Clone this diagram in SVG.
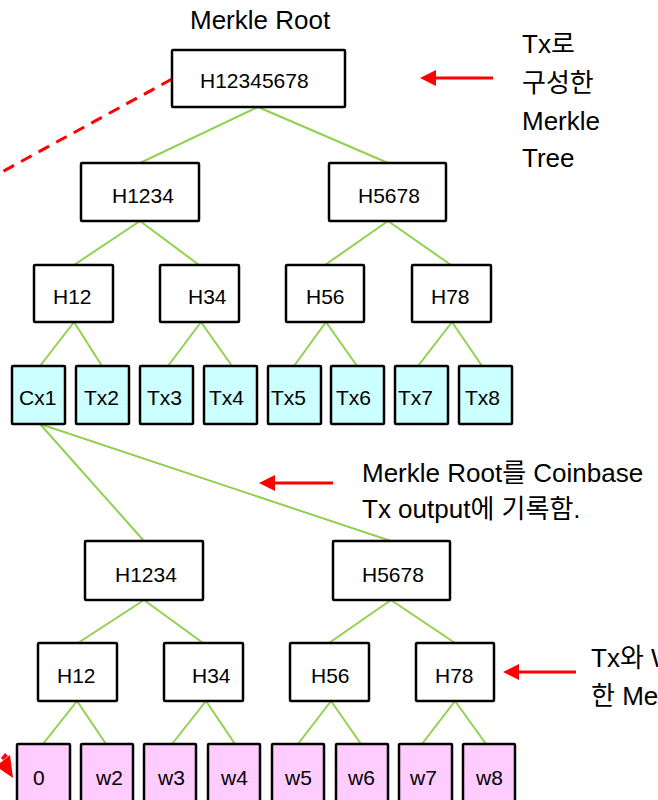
<svg xmlns="http://www.w3.org/2000/svg" width="658" height="800" viewBox="0 0 658 800">
<style>
.box{fill:#fff;stroke:#000;stroke-width:2.5}
.tx{fill:#ccffff;stroke:#000;stroke-width:2.5}
.wt{fill:#ffccff;stroke:#000;stroke-width:2.5}
.lbl{font-family:"Liberation Sans",Arial,sans-serif;font-size:21px;fill:#000}
.ann{font-family:"Liberation Sans","Noto Sans CJK KR",sans-serif;font-size:26px;fill:#000}
.edge{stroke:#92d050;stroke-width:2;fill:none}
.red{stroke:#ff0000;stroke-width:3;fill:none}
.head{fill:#ff0000}
</style>
<rect width="658" height="800" fill="#fff"/>
<g id="connectors">
<path class="edge" d="M258,107L140,163M258,107L388,163M140,221L74,265M140,221L199,265M388,221L325,265M388,221L451,265M74,322L40,366M74,322L102,366M201,322L168,366M201,322L232,366M326,322L294,366M326,322L357,366M452,322L418,366M452,322L482,366M40,424L144,541M40,424L391,541M144,600L78,643M144,600L203,643M391,600L329,643M391,600L455,643M77,701L43,744M77,701L106,744M206,701L172,744M206,701L235,744M331,701L298,744M331,701L361,744M455,701L422,744M455,701L486,744"/>
<line class="red" x1="172" y1="79" x2="0" y2="173" stroke-dasharray="12,8"/>
<line class="red" x1="493" y1="78" x2="434" y2="78"/>
<polygon class="head" points="420,78 436,70 436,86"/>
<line class="red" x1="333" y1="483" x2="273" y2="483"/>
<polygon class="head" points="259,483 275,475 275,491"/>
<line class="red" x1="576" y1="672" x2="517" y2="672"/>
<polygon class="head" points="503,672 519,664 519,680"/>
<polygon class="head" points="13,778 0,769 0,763 10,755"/>
<polygon class="head" points="1,758 5,753 8,756 3,760"/>
</g>
<text class="ann" x="190" y="29">Merkle Root</text>
<text class="ann" x="522" y="53">Tx로</text>
<text class="ann" x="522" y="92">구성한</text>
<text class="ann" x="522" y="130">Merkle</text>
<text class="ann" x="522" y="167">Tree</text>
<text class="ann" x="362" y="482">Merkle Root를 Coinbase</text>
<text class="ann" x="362" y="518">Tx output에 기록함.</text>
<text class="ann" x="591" y="667">Tx와 Witness로 구성</text>
<text class="ann" x="591" y="705">한 Merkle Tree</text>
<g id="root"><rect class="box" x="172" y="50" width="173" height="57" rx="1"/><text class="lbl" x="200" y="88">H12345678</text></g>
<g id="h1234a"><rect class="box" x="81" y="163" width="118" height="58" rx="1"/><text class="lbl" x="112" y="203">H1234</text></g>
<g id="h5678a"><rect class="box" x="329" y="163" width="117" height="58" rx="1"/><text class="lbl" x="358" y="203">H5678</text></g>
<g id="h12a"><rect class="box" x="34" y="265" width="79" height="57" rx="1"/><text class="lbl" x="53" y="304">H12</text></g>
<g id="h34a"><rect class="box" x="160" y="265" width="79" height="57" rx="1"/><text class="lbl" x="188" y="304">H34</text></g>
<g id="h56a"><rect class="box" x="286" y="265" width="78" height="57" rx="1"/><text class="lbl" x="306" y="304">H56</text></g>
<g id="h78a"><rect class="box" x="412" y="265" width="79" height="57" rx="1"/><text class="lbl" x="431" y="304">H78</text></g>
<g id="cx1"><rect class="tx" x="12" y="366" width="53" height="58" rx="1"/><text class="lbl" x="19" y="405">Cx1</text></g>
<g id="tx2"><rect class="tx" x="76" y="366" width="53" height="58" rx="1"/><text class="lbl" x="84" y="405">Tx2</text></g>
<g id="tx3"><rect class="tx" x="140" y="366" width="53" height="58" rx="1"/><text class="lbl" x="147" y="405">Tx3</text></g>
<g id="tx4"><rect class="tx" x="204" y="366" width="53" height="58" rx="1"/><text class="lbl" x="209" y="405">Tx4</text></g>
<g id="tx5"><rect class="tx" x="268" y="366" width="53" height="58" rx="1"/><text class="lbl" x="271" y="405">Tx5</text></g>
<g id="tx6"><rect class="tx" x="331" y="366" width="53" height="58" rx="1"/><text class="lbl" x="336" y="405">Tx6</text></g>
<g id="tx7"><rect class="tx" x="395" y="366" width="53" height="58" rx="1"/><text class="lbl" x="398" y="405">Tx7</text></g>
<g id="tx8"><rect class="tx" x="459" y="366" width="53" height="58" rx="1"/><text class="lbl" x="465" y="405">Tx8</text></g>
<g id="h1234b"><rect class="box" x="85" y="541" width="118" height="59" rx="1"/><text class="lbl" x="115" y="582">H1234</text></g>
<g id="h5678b"><rect class="box" x="333" y="541" width="117" height="59" rx="1"/><text class="lbl" x="362" y="582">H5678</text></g>
<g id="h12b"><rect class="box" x="38" y="643" width="79" height="58" rx="1"/><text class="lbl" x="57" y="683">H12</text></g>
<g id="h34b"><rect class="box" x="164" y="643" width="79" height="58" rx="1"/><text class="lbl" x="192" y="683">H34</text></g>
<g id="h56b"><rect class="box" x="290" y="643" width="79" height="58" rx="1"/><text class="lbl" x="311" y="683">H56</text></g>
<g id="h78b"><rect class="box" x="416" y="643" width="78" height="58" rx="1"/><text class="lbl" x="435" y="683">H78</text></g>
<g id="w1"><rect class="wt" x="17" y="744" width="53" height="70" rx="1"/><text class="lbl" x="33" y="785">0</text></g>
<g id="w2"><rect class="wt" x="81" y="744" width="52" height="70" rx="1"/><text class="lbl" x="96" y="785">w2</text></g>
<g id="w3"><rect class="wt" x="144" y="744" width="52" height="70" rx="1"/><text class="lbl" x="158" y="785">w3</text></g>
<g id="w4"><rect class="wt" x="208" y="744" width="52" height="70" rx="1"/><text class="lbl" x="221" y="785">w4</text></g>
<g id="w5"><rect class="wt" x="272" y="744" width="52" height="70" rx="1"/><text class="lbl" x="285" y="785">w5</text></g>
<g id="w6"><rect class="wt" x="336" y="744" width="52" height="70" rx="1"/><text class="lbl" x="348" y="785">w6</text></g>
<g id="w7"><rect class="wt" x="399" y="744" width="53" height="70" rx="1"/><text class="lbl" x="410" y="785">w7</text></g>
<g id="w8"><rect class="wt" x="463" y="744" width="52" height="70" rx="1"/><text class="lbl" x="476" y="785">w8</text></g>
</svg>
